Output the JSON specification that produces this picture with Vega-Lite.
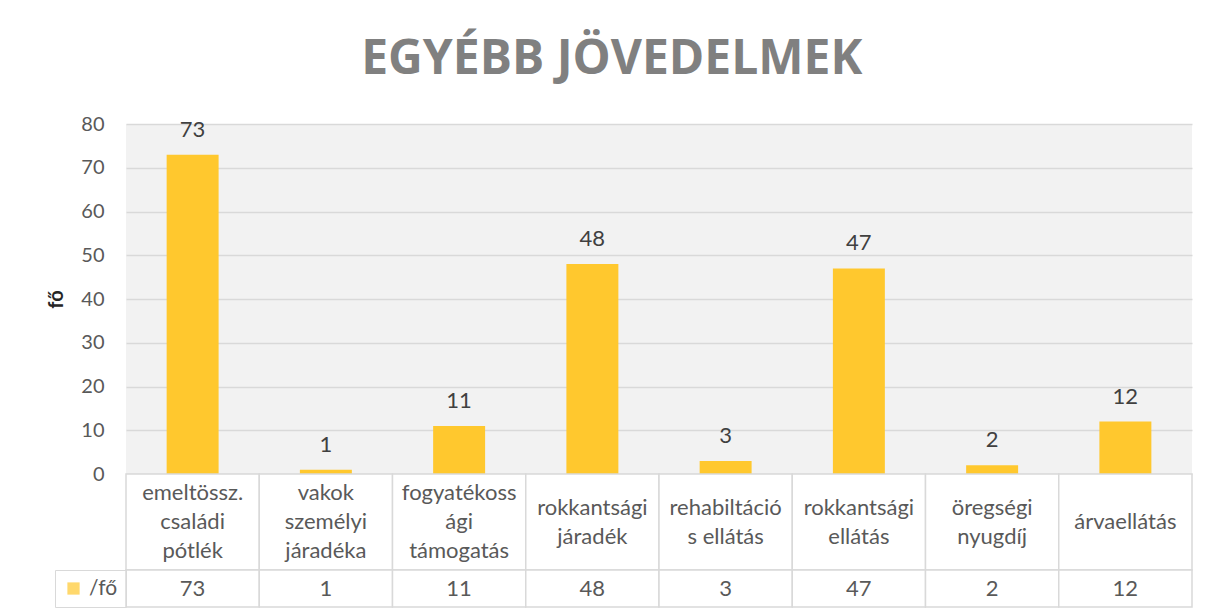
{
  "$schema": "https://vega.github.io/schema/vega-lite/v6.json",
  "padding": {"left": 46, "top": 36, "right": 5, "bottom": 0},
  "background": "white",
  "bounds": "flush",
  "title": {
    "text": "EGYÉBB JÖVEDELMEK",
    "font": "Open Sans",
    "fontSize": 48,
    "fontWeight": "bold",
    "color": "#808080",
    "anchor": "middle",
    "offset": 30,
    "dx": -8
  },
  "datasets": {
    "main": [
      {"cat": "emeltössz. családi pótlék", "label": "emeltössz.\ncsaládi\npótlék", "value": 73, "series": "/fő"},
      {"cat": "vakok személyi járadéka", "label": "vakok\nszemélyi\njáradéka", "value": 1, "series": "/fő"},
      {"cat": "fogyatékossági támogatás", "label": "fogyatékoss\nági\ntámogatás", "value": 11, "series": "/fő"},
      {"cat": "rokkantsági járadék", "label": "rokkantsági\njáradék", "value": 48, "series": "/fő"},
      {"cat": "rehabiltációs ellátás", "label": "rehabiltáció\ns ellátás", "value": 3, "series": "/fő"},
      {"cat": "rokkantsági ellátás", "label": "rokkantsági\nellátás", "value": 47, "series": "/fő"},
      {"cat": "öregségi nyugdíj", "label": "öregségi\nnyugdíj", "value": 2, "series": "/fő"},
      {"cat": "árvaellátás", "label": "árvaellátás", "value": 12, "series": "/fő"}
    ]
  },
  "spacing": 0,
  "resolve": {"scale": {"x": "independent", "color": "independent"}, "legend": {"color": "independent"}},
  "vconcat": [
    {
      "width": 1066,
      "height": 350,
      "view": {"fill": "#f2f2f2", "stroke": null},
      "data": {"name": "main"},
      "encoding": {
        "x": {"field": "cat", "type": "nominal", "sort": null, "scale": {"paddingInner": 0.61, "paddingOuter": 0.305}, "axis": null}
      },
      "layer": [
        {
          "mark": {"type": "bar", "color": "#FFC82E"},
          "encoding": {
            "y": {
              "field": "value", "type": "quantitative",
              "scale": {"domain": [0, 80]},
              "axis": {
                "title": "fő",
                "values": [0, 10, 20, 30, 40, 50, 60, 70, 80],
                "grid": true, "gridColor": "#d9d9d9", "gridWidth": 1.5,
                "domain": false, "ticks": false,
                "labelPadding": 22, "labelFontSize": 20, "labelColor": "#595959", "labelFont": "Lato",
                "titleFont": "Lato", "titleFontSize": 20, "titleFontWeight": "bold", "titleColor": "#262626", "titlePadding": 14
              }
            }
          }
        },
        {
          "mark": {"type": "text", "baseline": "bottom", "dy": -13, "fontSize": 22, "font": "Lato", "color": "#404040"},
          "encoding": {
            "y": {"field": "value", "type": "quantitative"},
            "text": {"field": "value", "type": "quantitative"}
          }
        }
      ]
    },
    {
      "width": 1066,
      "height": 96,
      "view": {"stroke": null},
      "data": {"name": "main"},
      "encoding": {
        "x": {"field": "cat", "type": "nominal", "sort": null, "scale": {"padding": 0}, "axis": null}
      },
      "layer": [
        {"mark": {"type": "rect", "fill": "white", "stroke": "#d9d9d9", "strokeWidth": 1.5}, "encoding": {}},
        {
          "transform": [{"filter": "length(split(datum.label, '\\n')) == 3"}],
          "mark": {"type": "text", "lineBreak": "\n", "lineHeight": 29, "fontSize": 22, "font": "Lato", "color": "#595959", "baseline": "middle", "dy": -29},
          "encoding": {"text": {"field": "label", "type": "nominal"}}
        },
        {
          "transform": [{"filter": "length(split(datum.label, '\\n')) == 2"}],
          "mark": {"type": "text", "lineBreak": "\n", "lineHeight": 29, "fontSize": 22, "font": "Lato", "color": "#595959", "baseline": "middle", "dy": -14.5},
          "encoding": {"text": {"field": "label", "type": "nominal"}}
        },
        {
          "transform": [{"filter": "length(split(datum.label, '\\n')) == 1"}],
          "mark": {"type": "text", "lineBreak": "\n", "lineHeight": 29, "fontSize": 22, "font": "Lato", "color": "#595959", "baseline": "middle"},
          "encoding": {"text": {"field": "label", "type": "nominal"}}
        }
      ]
    },
    {
      "width": 1066,
      "height": 37,
      "view": {"stroke": null},
      "data": {"name": "main"},
      "encoding": {
        "x": {"field": "cat", "type": "nominal", "sort": null, "scale": {"padding": 0}, "axis": null}
      },
      "layer": [
        {"mark": {"type": "rect", "fill": "white", "stroke": "#d9d9d9", "strokeWidth": 1.5}, "encoding": {}},
        {
          "mark": {"type": "square", "size": 0, "filled": true},
          "encoding": {
            "color": {
              "field": "series", "type": "nominal",
              "scale": {"range": ["#FFC82E"]},
              "legend": {
                "orient": "left", "offset": 0, "title": null, "padding": 8,
                "strokeColor": "#d9d9d9", "symbolType": "square", "symbolSize": 150, "symbolStrokeWidth": 0,
                "labelFontSize": 21, "labelFont": "Lato", "labelColor": "#595959", "labelOffset": 5
              }
            }
          }
        },
        {
          "mark": {"type": "text", "fontSize": 22, "font": "Lato", "color": "#595959", "baseline": "middle"},
          "encoding": {"text": {"field": "value", "type": "quantitative"}}
        }
      ]
    }
  ]
}
